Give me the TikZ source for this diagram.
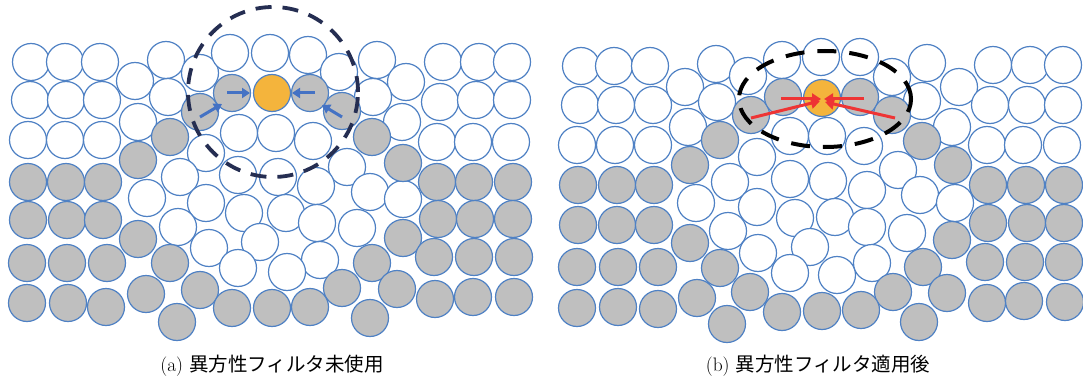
\documentclass[tikz,border=0pt]{standalone}
\usepackage{fontspec}
\newfontfamily\jpfont{Noto Sans CJK JP}
\usetikzlibrary{arrows.meta,shapes.geometric}
\definecolor{ballblue}{HTML}{4F81C4}
\definecolor{ballgray}{HTML}{BFBFBF}
\definecolor{ballorange}{HTML}{F4B43C}
\definecolor{ringnavy}{HTML}{252E52}
\definecolor{arrblue}{HTML}{4472C4}
\definecolor{arrred}{HTML}{EE3434}
\tikzset{
  ball/.style={circle, draw=ballblue, line width=1.2pt, minimum size=37pt, inner sep=0pt},
  wball/.style={ball, fill=white},
  gball/.style={ball, fill=ballgray},
  oball/.style={ball, fill=ballorange},
  ringstyle/.style={line width=3.8pt, dash pattern=on 16pt off 11pt},
  bluearr/.style={draw=arrblue, line width=3pt, -{Triangle[length=8pt,width=10pt]}},
  redarr/.style={draw=arrred, line width=3pt, -{Triangle[length=9pt,width=11pt]}},
  caption/.style={font=\fontsize{19.5}{22}\selectfont, inner sep=0pt}
}
\begin{document}
\begin{tikzpicture}[x=1pt,y=-1pt]
\useasboundingbox (0,0) rectangle (1083,385);
% ---------- panel (a) ----------
\foreach \x/\y [count=\i] in {31/62,65/62,100/62,30/100,66/100,102/100,28/140,65/140,102/140,
  135/81,166/60,200/73,230/53,270/53,308/55,339/72,377/60,406/82,
  138/122,168/97,373/97,402/122,239/133,276/133,313/141,206/153,347/167,
  180/177,238/175,278/177,316/186,370/192,403/199,
  147/198,206/203,244/213,286/213,317/223,357/228,178/227,
  209/248,260/242,320/260,238/268,287/272,
  443/62,479/62,512/62,440/102,476/100,512/100,437/142,473/142,511/142}
  \node[wball] (wa\i) at (\x,\y) {};
\foreach \x/\y [count=\i] in {28/182,66/182,103/182,28/220,67/220,103/220,27/263,67/263,107/263,27/303,68/303,106/307,
  200/112,232/93,310/93,342/111,170/137,372/137,138/160,403/163,138/239,403/238,
  170/263,372/263,146/294,200/290,232/308,272/308,310/307,342/288,397/289,177/322,370/318,
  437/182,474/182,513/182,438/219,475/219,513/219,434/257,474/257,514/257,435/299,473/297,514/297}
  \node[gball] (ga\i) at (\x,\y) {};
\node[oball] (oa) at (272,93) {};
\node[circle, draw=ringnavy, ringstyle, minimum size=170pt, inner sep=0pt] (ringa) at (273,92) {};
\coordinate (a1s) at (227,93);  \coordinate (a1e) at (250,93);
\coordinate (a2s) at (315,93);  \coordinate (a2e) at (292,93);
\coordinate (a3s) at (200,117); \coordinate (a3e) at (222,104);
\coordinate (a4s) at (342,117); \coordinate (a4e) at (322,105);
\draw[bluearr] (a1s) -- (a1e);
\draw[bluearr] (a2s) -- (a2e);
\draw[bluearr] (a3s) -- (a3e);
\draw[bluearr] (a4s) -- (a4e);
% ---------- panel (b) ----------
\foreach \x/\y [count=\i] in {581/66,614/66,650/66,580/105,616/105,653/105,577/145,615/145,653/145,
  685/87,716/64,748/76,782/60,821/57,860/57,892/77,927/63,959/87,
  688/127,717/102,922/101,952/127,757/157,790/136,827/136,864/146,
  730/182,790/179,828/181,867/190,898/170,920/195,955/203,
  696/203,757/207,795/218,835/217,867/227,907/233,
  728/231,810/247,758/253,790/273,837/275,872/263,
  993/65,1030/65,1063/65,990/105,1027/105,1063/105,987/145,1023/145,1062/145}
  \node[wball] (wb\i) at (\x,\y) {};
\foreach \x/\y [count=\i] in {578/185,617/185,654/185,578/225,617/225,654/225,577/267,618/267,658/267,577/308,618/307,658/309,
  751/115,783/97,860/97,892/115,720/140,690/165,922/141,953/165,
  690/243,952/240,720/268,923/267,750/292,893/292,697/298,947/293,
  782/312,822/311,861/310,727/324,919/322,
  988/185,1026/185,1064/185,988/223,1027/223,1064/223,985/262,1025/262,1064/262,987/303,1024/301,1065/302}
  \node[gball] (gb\i) at (\x,\y) {};
\node[oball] (ob) at (822,98) {};
\node[ellipse, draw=black, ringstyle, dash pattern=on 19pt off 13pt, line width=4pt, minimum width=172pt, minimum height=96pt, inner sep=0pt] (ringb) at (825,99) {};
\coordinate (b1s) at (781,99);  \coordinate (b1e) at (821,99);
\coordinate (b2s) at (864,99);  \coordinate (b2e) at (824,99);
\coordinate (b3s) at (751,118); \coordinate (b3e) at (820,101);
\coordinate (b4s) at (895,118); \coordinate (b4e) at (825,102);
\draw[redarr] (b1s) -- (b1e);
\draw[redarr] (b2s) -- (b2e);
\draw[redarr] (b3s) -- (b3e);
\draw[redarr] (b4s) -- (b4e);
% ---------- captions ----------
\node[caption] (capa) at (272,366) {(a) {\jpfont 異方性フィルタ未使用}};
\node[caption] (capb) at (818,366) {(b) {\jpfont 異方性フィルタ適用後}};
\end{tikzpicture}
\end{document}
